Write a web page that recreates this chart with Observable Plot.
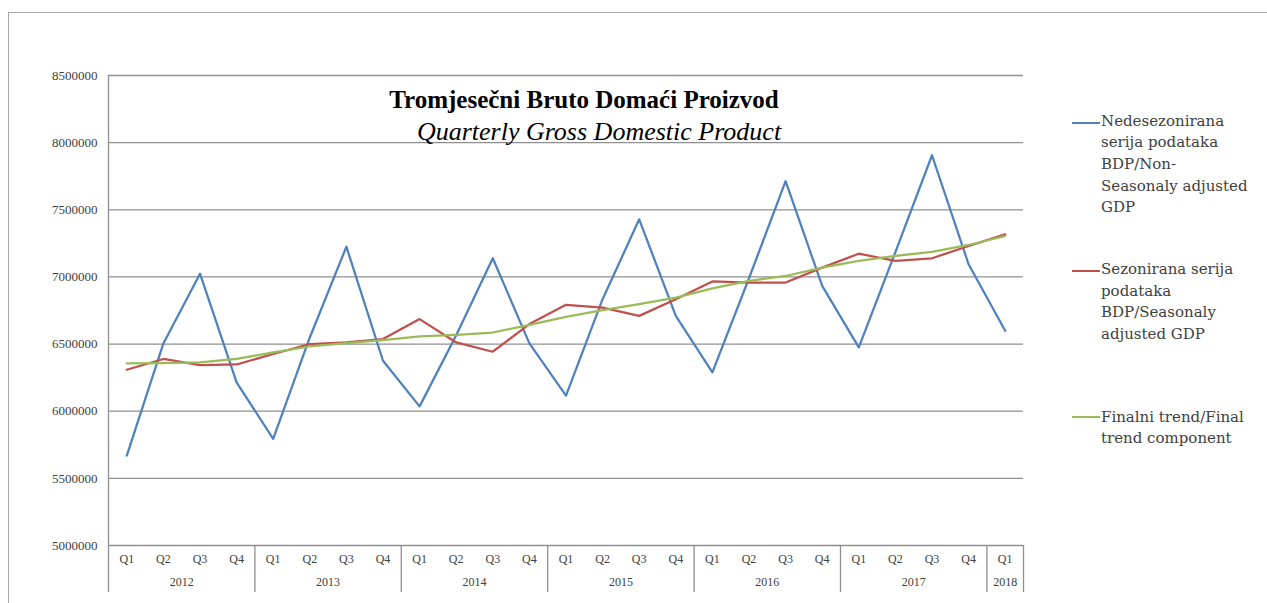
<!DOCTYPE html>
<html><head><meta charset="utf-8">
<script src="https://cdn.jsdelivr.net/npm/d3@7"></script>
<script src="https://cdn.jsdelivr.net/npm/@observablehq/plot@0.6"></script>
<style>
body{margin:0;background:#fff;overflow:hidden;}
#wrap{position:relative;width:1267px;height:603px;overflow:hidden;}
#frame{position:absolute;left:8px;top:12px;width:1400px;height:700px;border-top:1px solid #a8a8a8;border-left:1px solid #a8a8a8;}
#chart{position:absolute;left:0;top:0;}
.ttl{position:absolute;font-family:"Liberation Serif",serif;white-space:nowrap;color:#000;transform:translateX(-50%);}
.leg{position:absolute;left:1101px;font-family:"DejaVu Serif",serif;font-size:15px;line-height:21.6px;color:#404040;white-space:nowrap;}
.sw{position:absolute;left:1072px;width:28px;height:2.25px;}
</style></head>
<body><div id="wrap"><div id="frame"></div><div id="chart"></div></div>
<script>
const quarterLabels = ["Q1","Q2","Q3","Q4","Q1","Q2","Q3","Q4","Q1","Q2","Q3","Q4","Q1","Q2","Q3","Q4","Q1","Q2","Q3","Q4","Q1","Q2","Q3","Q4","Q1"];
const yearLabels = ["2012","2013","2014","2015","2016","2017","2018"];
const quartersPerYear = [4,4,4,4,4,4,1];
const nonSeasonal = [5670000,6505000,7024000,6215000, 5794000,6549000,7225000,6376000, 6036000,6565000,7139000,6505000, 6116000,6834000,7429000,6710000, 6289000,6990000,7713000,6933000, 6475000,7185000,7906000,7094000, 6599000];
const seasonal = [6309000,6389000,6344000,6348000, 6426000,6500000,6512000,6537000, 6686000,6512000,6443000,6649000, 6792000,6772000,6710000,6834000, 6966000,6958000,6958000,7069000, 7173000,7119000,7139000,7230000, 7317000];
const trend = [6356000,6358000,6363000,6389000, 6438000,6482000,6507000,6530000, 6557000,6569000,6586000,6643000, 6703000,6753000,6797000,6846000, 6915000,6970000,7007000,7069000, 7119000,7156000,7186000,7238000, 7305000];
const yTicks = [5000000,5500000,6000000,6500000,7000000,7500000,8000000,8500000];
const titleText = "Tromjesečni Bruto Domaći Proizvod";
const subtitleText = "Quarterly Gross Domestic Product";
const legendLines = [
  ["Nedesezonirana","serija podataka","BDP/Non-","Seasonaly adjusted","GDP"],
  ["Sezonirana serija","podataka","BDP/Seasonaly","adjusted GDP"],
  ["Finalni trend/Final","trend component"]
];
const colors = ["#4F81BD","#C0504D","#9BBB59"];

const rows = quarterLabels.map((q,i)=>({i, q, nonSeasonal:nonSeasonal[i], seasonal:seasonal[i], trend:trend[i]}));
const yearRows = []; const bounds = [-0.5]; let start = 0;
yearLabels.forEach((y,k)=>{const n=quartersPerYear[k]; yearRows.push({year:y, mid:start+(n-1)/2}); start+=n; bounds.push(start-0.5);});

const grid = "#8f8f8f";
const chart = Plot.plot({
  width:1267, height:603, marginLeft:108, marginRight:244, marginTop:75, marginBottom:58,
  style:{background:"transparent", fontFamily:"Liberation Serif, serif", color:"#404040"},
  x:{type:"linear", domain:[-0.5,24.5], axis:null},
  y:{domain:[5000000,8500000], axis:null},
  marks:[
    Plot.gridY(yTicks,{stroke:grid, strokeOpacity:1, strokeWidth:1.3}),
    Plot.axisY(yTicks,{tickSize:0, tickPadding:11, tickFormat:d=>String(d), fontSize:13, fill:"#404040"}),
    Plot.ruleX([bounds[0]],{stroke:grid, strokeWidth:1.3, insetBottom:-47}),
    Plot.ruleX(bounds.slice(1),{stroke:grid, strokeWidth:1.3, insetTop:470, insetBottom:-47}),
    Plot.text(rows,{x:"i", text:"q", frameAnchor:"bottom", dy:17, fontSize:12, fill:"#404040"}),
    Plot.text(yearRows,{x:"mid", text:"year", frameAnchor:"bottom", dy:40, fontSize:12, fill:"#404040"}),
    Plot.line(rows,{x:"i", y:"nonSeasonal", stroke:colors[0], strokeWidth:2.25}),
    Plot.line(rows,{x:"i", y:"seasonal", stroke:colors[1], strokeWidth:2.25}),
    Plot.line(rows,{x:"i", y:"trend", stroke:colors[2], strokeWidth:2.25})
  ]
});
document.getElementById("chart").appendChild(chart);

const wrap = document.getElementById("wrap");
function addDiv(cls, css, html){const d=document.createElement("div"); d.className=cls; d.style.cssText=css; d.innerHTML=html; wrap.appendChild(d); return d;}
addDiv("ttl","left:584px;top:87.4px;font-size:25px;line-height:25px;font-weight:bold;", titleText);
addDiv("ttl","left:599px;top:118.7px;font-size:26px;line-height:26px;font-style:italic;", subtitleText);
const legTops = [110.8, 259.1, 406.8];
const swTops = [122.2, 269.6, 415.6];
legendLines.forEach((lines,k)=>{
  addDiv("sw", `top:${swTops[k]}px;background:${colors[k]};`, "");
  addDiv("leg", `top:${legTops[k]}px;`, lines.join("<br>"));
});
</script>
</body></html>
